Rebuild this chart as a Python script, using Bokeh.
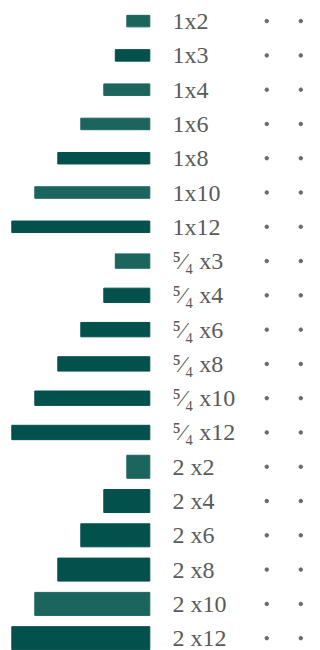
from bokeh.plotting import figure
from bokeh.models import ColumnDataSource, Range1d
from bokeh.embed import file_html
from bokeh.resources import INLINE

# Nominal lumber sizes (thickness x width, inches)
labels = ["1x2", "1x3", "1x4", "1x6", "1x8", "1x10", "1x12",
          "\u2075\u2044\u2084 x3", "\u2075\u2044\u2084 x4", "\u2075\u2044\u2084 x6",
          "\u2075\u2044\u2084 x8", "\u2075\u2044\u2084 x10", "\u2075\u2044\u2084 x12",
          "2 x2", "2 x4", "2 x6", "2 x8", "2 x10", "2 x12"]
thickness = [1, 1, 1, 1, 1, 1, 1,
             1.25, 1.25, 1.25, 1.25, 1.25, 1.25,
             2, 2, 2, 2, 2, 2]
widths = [2, 3, 4, 6, 8, 10, 12,
          3, 4, 6, 8, 10, 12,
          2, 4, 6, 8, 10, 12]
shade = ["light", "dark", "light", "light", "dark", "light", "dark",
         "light", "dark", "dark", "dark", "dark", "dark",
         "light", "dark", "dark", "dark", "light", "dark"]

PALETTE = {"light": "#1c655f", "dark": "#03514c"}
ROW_STEP = 2.981  # row spacing in inch-units (plot scale 11.5 px per inch)

n = len(labels)
ys = [-i * ROW_STEP for i in range(n)]
src = ColumnDataSource(dict(
    y=ys,
    left=[-w for w in widths],
    right=[0] * n,
    h=thickness,
    color=[PALETTE[s] for s in shade],
    label=labels,
    font=["Liberation Serif"] * n,
    lx=[1.98] * n,
    d1=[10.17] * n,
    d2=[13.13] * n,
))

W, H = 320, 650
X0 = -149.3 / 11.5
YT = 20.6 / 11.5
p = figure(width=W, height=H, output_backend="svg", toolbar_location=None,
           x_range=Range1d(X0, X0 + W / 11.5),
           y_range=Range1d(YT - H / 11.5, YT),
           min_border=0)
p.axis.visible = False
p.grid.visible = False
p.outline_line_color = None
p.background_fill_color = "white"

p.hbar(y="y", left="left", right="right", height="h", color="color", source=src)
p.text(x="lx", y="y", text="label", source=src, text_font="font",
       text_font_size="24px", text_color="#5b5b5b",
       text_baseline="middle", text_align="left")
p.scatter(x="d1", y="y", size=3.5, color="#6a6a6a", source=src)
p.scatter(x="d2", y="y", size=3.5, color="#6a6a6a", source=src)

open("out.html", "w").write(file_html(p, INLINE))
